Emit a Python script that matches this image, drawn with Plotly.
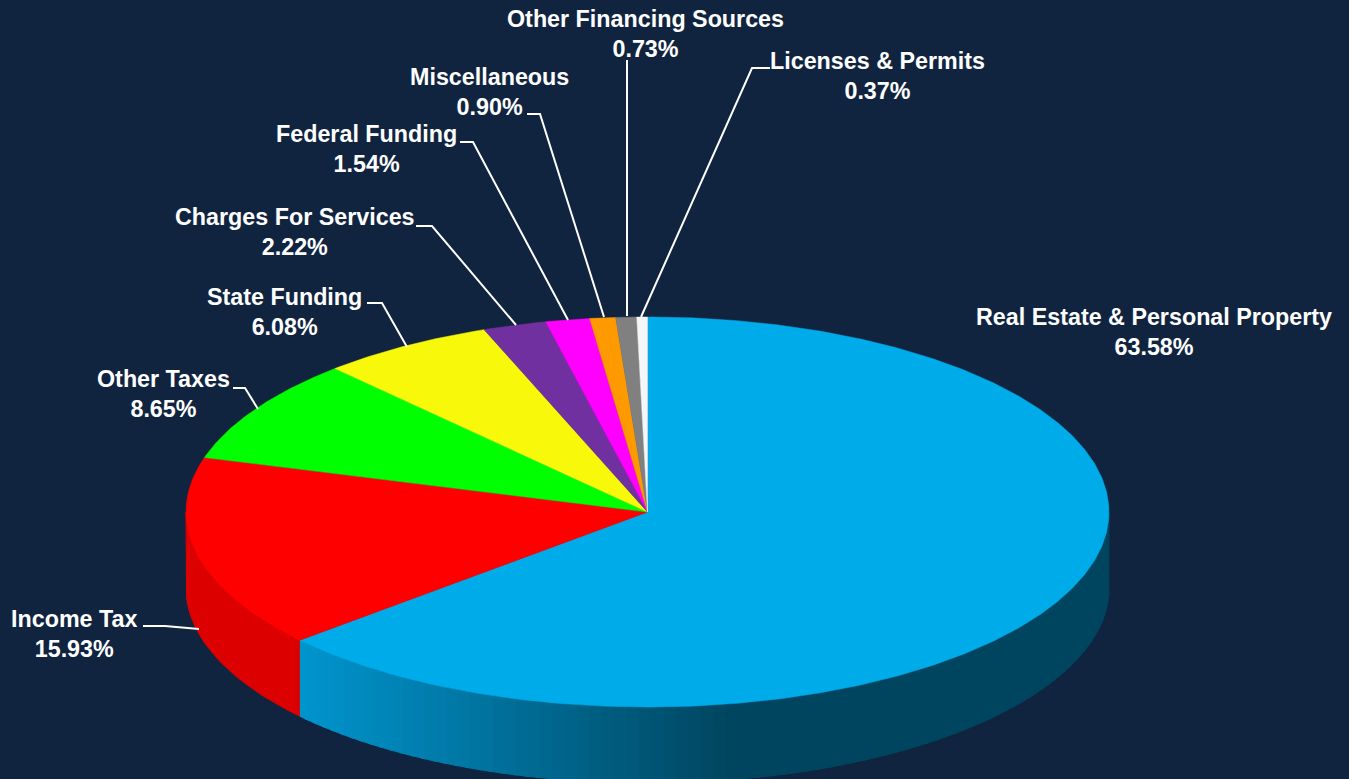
import numpy as np
import plotly.graph_objects as go

labels = ["Real Estate & Personal Property", "Income Tax", "Other Taxes", "State Funding",
          "Charges For Services", "Federal Funding", "Miscellaneous",
          "Other Financing Sources", "Licenses & Permits"]
values = [63.58, 15.93, 8.65, 6.08, 2.22, 1.54, 0.90, 0.73, 0.37]
colors = ["#00ABE9", "#FF0000", "#00FF00", "#F8F80A", "#7030A0", "#FF00FF", "#FF9900", "#808080", "#F4F6F8"]
wall_colors = ["#0095CE", "#DD0000", "#00CC00", "#C8C800", "#5A2680", "#CC00CC", "#CC7A00", "#666666", "#C8C8C8"]

# label anchor (centre x, first-line y), and leader line vertices
label_pos = [(1154, 317), (74, 619), (163, 379), (284, 297), (295, 217), (366, 134), (489, 77), (645, 19), (877, 61)]
leader_x = [None, [143, 165, 199], [233, 245, 258], [367, 382, 407], [416, 432, 516], [460, 473, 568], [527, 540, 604], [627, 627], [770, 752, 641]]
leader_y = [None, [626, 626, 629], [388, 388, 409], [303, 303, 347], [226, 226, 325], [142, 142, 320], [114, 114, 317], [60, 316], [68, 68, 317]]

cx, cy, rx, ry, depth = 647.5, 512, 461.5, 195, 76
BG = "#11243F"


def ell(t):
    return cx + rx * np.sin(t), cy - ry * np.cos(t)


def mix(a, b, f):
    pa = [int(a[i:i + 2], 16) for i in (1, 3, 5)]
    pb = [int(b[i:i + 2], 16) for i in (1, 3, 5)]
    return "#%02X%02X%02X" % tuple(round(p + (q - p) * f) for p, q in zip(pa, pb))


fig = go.Figure()
fractions = np.cumsum([0] + values) / sum(values) * 2 * np.pi

# side wall: only the part facing the viewer (t between 90 and 270 degrees)
for i in range(len(values)):
    lo, hi = max(fractions[i], np.pi / 2), min(fractions[i + 1], 3 * np.pi / 2)
    if hi <= lo:
        continue
    n = 90 if i == 0 else 1
    edges = np.linspace(lo, hi, n + 1)
    for k in range(n):
        t = np.linspace(edges[k], edges[k + 1] + (0.01 if k < n - 1 else 0), 30)
        x, y = ell(t)
        xs = np.r_[x, x[::-1]]
        ys = np.r_[y, y[::-1] + depth]
        xm = (x[0] + x[-1]) / 2
        col = mix("#0095CE", "#00455F", float(np.clip((xm - 300) / 430, 0, 1))) if i == 0 else wall_colors[i]
        fig.add_trace(go.Scatter(x=xs, y=ys, mode="lines", fill="toself", fillcolor=col,
                                 line=dict(width=1, color=col), hoverinfo="skip", showlegend=False))

# top face
for i, (lab, col) in enumerate(zip(labels, colors)):
    t = np.linspace(fractions[i], fractions[i + 1], max(int(values[i] * 6), 8))
    x, y = ell(t)
    fig.add_trace(go.Scatter(x=np.r_[cx, x, cx], y=np.r_[cy, y, cy], mode="lines", fill="toself",
                             fillcolor=col, line=dict(width=0.5, color=col), name=lab,
                             text=f"{lab}: {values[i]:.2f}%", hoverinfo="text", showlegend=False))

# leader lines
for lx, ly in zip(leader_x, leader_y):
    if lx:
        fig.add_trace(go.Scatter(x=lx, y=ly, mode="lines", line=dict(color="#FFFFFF", width=2),
                                 hoverinfo="skip", showlegend=False))

# labels
for lab, val, (px, py) in zip(labels, values, label_pos):
    fig.add_annotation(x=px, y=py, text=f"<b>{lab}</b><br><b>{val:.2f}%</b>", showarrow=False,
                       font=dict(family="Liberation Sans", size=23.3, color="#FFFFFF"),
                       xanchor="center", yanchor="middle", yshift=-15, align="center")

fig.update_xaxes(range=[0, 1349], visible=False, fixedrange=True)
fig.update_yaxes(range=[779, 0], visible=False, fixedrange=True)
fig.update_layout(width=1349, height=779, margin=dict(l=0, r=0, t=0, b=0),
                  paper_bgcolor=BG, plot_bgcolor=BG)
fig.write_html("out.html", config={"displayModeBar": False},
               post_script="document.body.style.margin='0';document.body.style.background='#11243F';")
